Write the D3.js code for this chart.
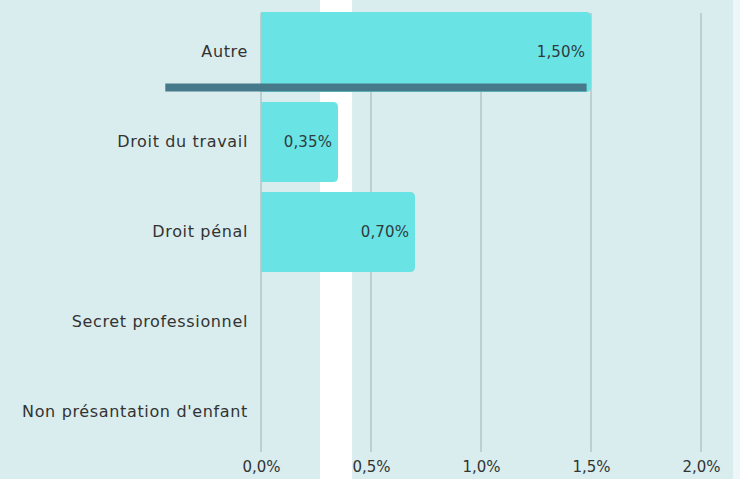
<!DOCTYPE html>
<html>
<head>
<meta charset="utf-8">
<script src="https://cdn.jsdelivr.net/npm/d3@7"></script>
<style>
  body { margin: 0; background: #eef7f7; }
  svg { display: block; font-family: "DejaVu Sans", sans-serif; }
  .grid line { stroke: #a8bcbe; stroke-width: 1.2; }
  .cat { fill: #333; font-size: 16px; letter-spacing: 0.65px; }
  .val { fill: #2f3b3d; font-size: 15px; letter-spacing: 0.1px; }
  .tick text { fill: #333; }
</style>
</head>
<body>
<div id="chart"></div>
<script>
var categories = ["Autre", "Droit du travail", "Droit pénal", "Secret professionnel", "Non présantation d'enfant"];
var values = [1.50, 0.35, 0.70, null, null];
var valueLabels = ["1,50%", "0,35%", "0,70%", "", ""];
var ticks = [0, 0.5, 1.0, 1.5, 2.0];
var tickLabels = ["0,0%", "0,5%", "1,0%", "1,5%", "2,0%"];
// dark marker under "Autre", in value units
var autreMarker = [-0.435, 1.48];
// white band behind the bars, in value units
var whiteBand = [0.268, 0.414];

var width = 740, height = 479;

var x = d3.scaleLinear().domain([0, 2]).range([261, 701]);
var y = d3.scaleBand().domain(categories).range([12, 452]).paddingInner(1 / 9).paddingOuter(0);

var svg = d3.select("#chart").append("svg")
  .attr("width", width)
  .attr("height", height);

svg.append("rect")
  .attr("x", 0).attr("y", 0)
  .attr("width", 733).attr("height", height)
  .attr("fill", "#d9edee");

svg.append("rect")
  .attr("x", x(whiteBand[0]))
  .attr("y", 0)
  .attr("width", x(whiteBand[1]) - x(whiteBand[0]))
  .attr("height", height)
  .attr("fill", "#ffffff");

// grid
svg.append("g")
  .attr("class", "grid")
  .selectAll("line")
  .data(ticks)
  .enter()
  .append("line")
  .attr("x1", function (d) { return x(d); })
  .attr("x2", function (d) { return x(d); })
  .attr("y1", 13)
  .attr("y2", 452);

// bars, rounded on the right only
function barPath(d, i) {
  var x0 = x(0), x1 = x(d), y0 = y(categories[i]), h = y.bandwidth(), r = 5;
  return "M" + x0 + "," + y0 +
    "H" + (x1 - r) +
    "Q" + x1 + "," + y0 + " " + x1 + "," + (y0 + r) +
    "V" + (y0 + h - r) +
    "Q" + x1 + "," + (y0 + h) + " " + (x1 - r) + "," + (y0 + h) +
    "H" + x0 + "Z";
}

svg.append("g")
  .selectAll("path")
  .data(values)
  .enter()
  .filter(function (d) { return d != null; })
  .append("path")
  .attr("d", function (d) { return barPath(d, values.indexOf(d)); })
  .attr("fill", "#6ae3e5");

svg.append("rect")
  .attr("x", x(autreMarker[0]))
  .attr("y", y("Autre") + y.bandwidth() - 8.5)
  .attr("width", x(autreMarker[1]) - x(autreMarker[0]))
  .attr("height", 8)
  .attr("fill", "#46798a");

// value labels
svg.append("g")
  .selectAll("text")
  .data(values)
  .enter()
  .filter(function (d) { return d != null; })
  .append("text")
  .attr("class", "val")
  .attr("x", function (d) { return x(d) - 6; })
  .attr("y", function (d) { return y(categories[values.indexOf(d)]) + y.bandwidth() / 2; })
  .attr("dy", "0.35em")
  .attr("text-anchor", "end")
  .text(function (d) { return valueLabels[values.indexOf(d)]; });

// category labels
svg.append("g")
  .selectAll("text")
  .data(categories)
  .enter()
  .append("text")
  .attr("class", "cat")
  .attr("x", 248)
  .attr("y", function (d) { return y(d) + y.bandwidth() / 2 - 1; })
  .attr("dy", "0.35em")
  .attr("text-anchor", "end")
  .text(function (d) { return d; });

// x axis
var xAxis = d3.axisBottom(x)
  .tickValues(ticks)
  .tickSize(0)
  .tickPadding(0)
  .tickFormat(function (d, i) { return tickLabels[i]; });

svg.append("g")
  .attr("transform", "translate(0,461)")
  .call(xAxis)
  .call(function (g) { g.select(".domain").remove(); })
  .selectAll("text")
  .attr("dy", "0.71em")
  .style("font-family", "'DejaVu Sans', sans-serif")
  .style("font-size", "15px");
</script>
</body>
</html>
